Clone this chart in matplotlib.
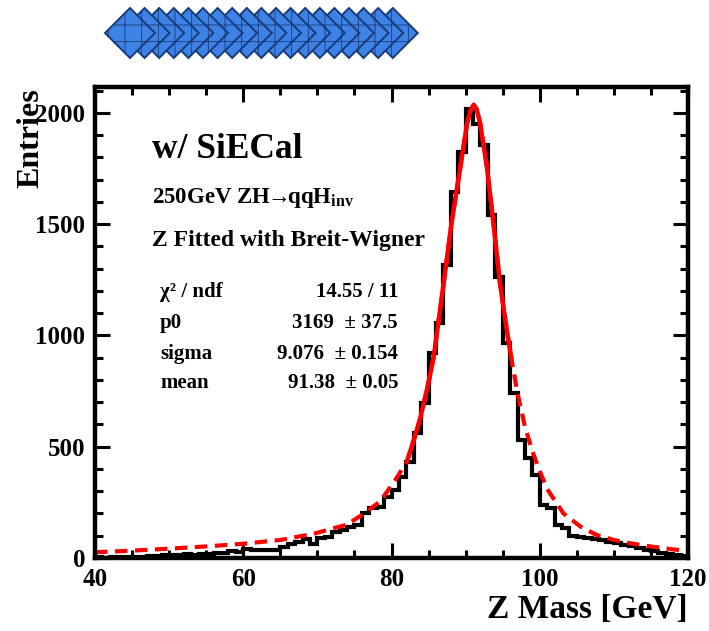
import matplotlib
matplotlib.use("Agg")
import matplotlib.pyplot as plt
from matplotlib.patches import Polygon
from matplotlib.ticker import MultipleLocator
import numpy as np

# Z mass histogram, 1 GeV bins from 40 to 120
bin_edges = list(range(40, 121))
entries = [3, 2, 4, 3, 6, 5, 4, 7, 10, 12,
           14, 13, 16, 15, 18, 20, 24, 22, 30, 28,
           40, 38, 35, 36, 38, 48, 62, 70, 85, 62,
           92, 95, 118, 128, 140, 148, 202, 225, 231, 276,
           305, 365, 433, 562, 698, 923, 1058, 1317, 1646, 1826,
           2015, 1950, 1856, 1541, 1264, 965, 740, 530, 449, 373,
           238, 225, 148, 135, 99, 96, 92, 86, 80, 74,
           68, 60, 55, 45, 38, 30, 22, 20, 12, 8]

# Breit-Wigner fit curve
fit_x = [40, 45, 50, 55, 60, 65, 69.4, 74, 76.3, 78.5, 80.7, 82.1, 83, 83.9, 85,
         85.7, 87, 88.1, 89.3, 90.2, 90.7, 91.1, 91.5, 91.96, 92.86, 93.75, 94.65,
         95.55, 96.2, 97, 98, 99, 100, 101, 103.2, 105.5, 107.7, 110, 112.2,
         114.5, 116.7, 119.4, 120]
fit_y = [26, 33, 42, 52, 64, 81, 108, 150, 200, 255, 360, 435, 530, 630, 790,
         905, 1225, 1505, 1759, 1953, 2015, 2036, 2015, 1953, 1759, 1505, 1230,
         1025, 890, 740, 590, 480, 390, 310, 200, 141, 103, 81, 66,
         54, 44, 33, 32]
fit_range = (82.1, 96.2)

stat_labels = ["\u03c7\u00b2 / ndf", "p0", "sigma", "mean"]
stat_values = ["14.55 / 11", "3169  \u00b1 37.5", "9.076  \u00b1 0.154", "91.38  \u00b1 0.05"]

plt.rcParams["font.family"] = ["Liberation Serif", "DejaVu Serif"]
plt.rcParams["font.weight"] = "bold"
plt.rcParams["mathtext.fontset"] = "custom"
plt.rcParams["mathtext.rm"] = "Liberation Serif:bold"
plt.rcParams["mathtext.it"] = "Liberation Serif:bold"
plt.rcParams["mathtext.bf"] = "Liberation Serif:bold"
plt.rcParams["hatch.color"] = "#3570cc"
plt.rcParams["hatch.linewidth"] = 0.6

W, H = 709, 631
fig = plt.figure(figsize=(W / 100, H / 100), dpi=100)
ax = fig.add_axes([95 / W, 1 - 558 / H, (688 - 95) / W, (558 - 87) / H])

ax.stairs(entries, bin_edges, color="black", linewidth=3, baseline=None)

fx = np.array(fit_x)
fy = np.array(fit_y)
ax.plot(fx, fy, color="red", linewidth=3, linestyle=(0, (3, 1.8)))
inside = (fx >= fit_range[0]) & (fx <= fit_range[1])
ax.plot(fx[inside], fy[inside], color="red", linewidth=3.2, solid_capstyle="round")

ax.set_xlim(40, 120)
ax.set_ylim(0, 2116)
ax.xaxis.set_major_locator(MultipleLocator(20))
ax.xaxis.set_minor_locator(MultipleLocator(5))
ax.yaxis.set_major_locator(MultipleLocator(500))
ax.yaxis.set_minor_locator(MultipleLocator(100))
ax.tick_params(which="both", direction="in", top=True, right=True, width=2.2)
ax.tick_params(which="major", length=11, labelsize=18, pad=7)
ax.tick_params(which="minor", length=6)
for s in ax.spines.values():
    s.set_linewidth(3.2)
for lab in ax.get_xticklabels() + ax.get_yticklabels():
    lab.set_fontweight("bold")

fig.text(31 / W, 1 - 88 / H, "Entries", rotation=90, ha="center", va="top",
         fontsize=23, fontweight="bold")
fig.text(688 / W, 1 - 610 / H, "Z Mass [GeV]", ha="right", va="center",
         fontsize=24, fontweight="bold")

fig.text(152 / W, 1 - 150 / H, "w/ SiECal", ha="left", va="center",
         fontsize=25.5, fontweight="bold")
fig.text(152 / W, 1 - 198 / H,
         "250GeV ZH$\\!\\!\\rightarrow\\!\\!$qqH$_{\\mathrm{inv}}$",
         ha="left", va="center", fontsize=16.5, fontweight="bold")
fig.text(152 / W, 1 - 240 / H, "Z Fitted with Breit-Wigner", ha="left",
         va="center", fontsize=17, fontweight="bold")

row_y = [292, 323, 354, 383]
for lab, val, yy in zip(stat_labels, stat_values, row_y):
    fig.text(160 / W, 1 - yy / H, lab, ha="left", va="center", fontsize=15,
             fontweight="bold")
    fig.text(398 / W, 1 - yy / H, val, ha="right", va="center", fontsize=15,
             fontweight="bold")

# decorative row of blue diamonds at the top (left ones drawn on top)
n_diamonds = 19
for i in reversed(range(n_diamonds)):
    cx = 130 + i * 14.6
    cy = 33
    hw, hh = 25, 25
    pts = [(cx - hw, cy), (cx, cy - hh), (cx + hw, cy), (cx, cy + hh)]
    pts = [(px / W, 1 - py / H) for px, py in pts]
    fig.patches.append(Polygon(pts, closed=True, transform=fig.transFigure,
                               facecolor="#3f82e6", edgecolor="#173b7a",
                               linewidth=1.4, hatch="+"))

fig.savefig("out.png", dpi=100)
